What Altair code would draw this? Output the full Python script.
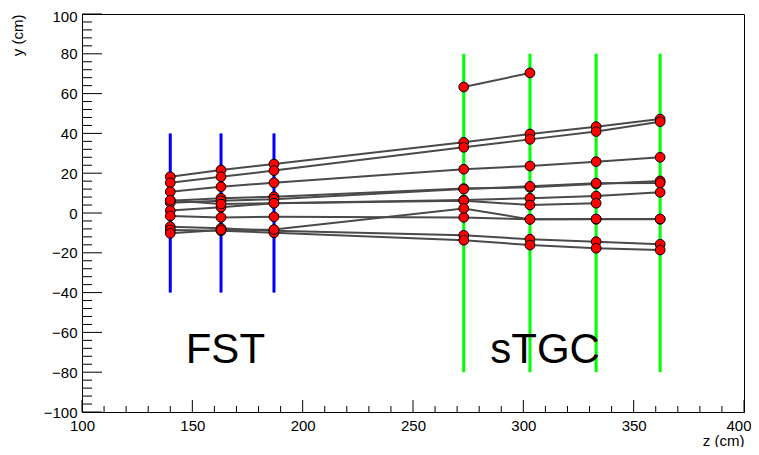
import altair as alt
import pandas as pd

# detector planes (z, cm)
FST_Z = [140, 163, 187]
STGC_Z = [273, 303, 333, 362]
PLANE_Z = FST_Z + STGC_Z
FST_HALF = 40
STGC_HALF = 80

# hit y positions (cm) of each track at the planes (None = no hit)
TRACK_1 = [18.2, 21.6, 24.6, 35.5, 39.7, 43.4, 47.2]
TRACK_2 = [15.2, 18.2, 21.3, 33.0, 37.0, 40.9, 45.9]
TRACK_3 = [10.7, 13.2, 15.2, 22.0, 23.6, 25.8, 28.0]
TRACK_4 = [6.2, 7.4, 8.2, 12.3, 12.9, 14.6, 16.1]
TRACK_5 = [5.2, 6.2, 6.9, 12.0, 13.4, 15.0, 15.1]
TRACK_6 = [1.2, 2.9, 4.9, 6.5, 7.4, 8.5, 10.4]
TRACK_7 = [6.4, 4.5, 4.9, 6.2, 4.0, 4.9, None]
TRACK_8 = [-1.5, -2.2, -1.9, -2.2, -3.2, -3.2, -3.2]
TRACK_9 = [-6.9, -7.7, -8.9, -11.2, -13.2, -14.4, -15.7]
TRACK_10 = [-8.5, -8.9, -9.9, -13.7, -16.1, -17.7, -18.6]
TRACK_11 = [-10.2, -8.5, -8.3, 2.3, -3.2, -3.0, -3.0]
TRACK_12 = [None, None, None, 63.3, 70.4, None, None]
TRACKS = [TRACK_1, TRACK_2, TRACK_3, TRACK_4, TRACK_5, TRACK_6,
          TRACK_7, TRACK_8, TRACK_9, TRACK_10, TRACK_11, TRACK_12]

LABELS = ["FST", "sTGC"]
LABEL_Z = [147, 285]
LABEL_Y = [-75.5, -75.5]

X_MAJOR = list(range(100, 401, 50))
X_MINOR = [v for v in range(100, 401, 10) if v % 50 != 0]
Y_MAJOR = list(range(-100, 101, 20))
Y_MINOR = [v for v in range(-100, 101, 4) if v % 20 != 0]

W, H = 662, 398

rows = []
for i, tr in enumerate(TRACKS):
    for z, y in zip(PLANE_Z, tr):
        if y is not None:
            rows.append({"track": i, "z": z, "y": y})
hits = pd.DataFrame(rows)

xs = alt.Scale(domain=[100, 400], nice=False, zero=False)
ys = alt.Scale(domain=[-100, 100], nice=False, zero=False)

xaxis = alt.Axis(values=X_MAJOR, ticks=False, grid=False, labelFontSize=15,
                 labelFont="Liberation Sans", labelColor="black", labelPadding=6,
                 labelFlush=False, labelOverlap=False, labelBound=False,
                 labelAlign=alt.condition("datum.value >= 400", alt.value("right"), alt.value("center")),
                 labelOffset=alt.condition("datum.value >= 400", alt.value(7), alt.value(0)),
                 domainColor="black",
                 title="z (cm)", titleFont="Liberation Sans", titleFontSize=15,
                 titleFontWeight="normal", titleAnchor="end", titleAlign="right",
                 titleX=W, titleY=28, titleBaseline="middle", titleColor="black")
yaxis = alt.Axis(values=Y_MAJOR, ticks=False, grid=False, labelFontSize=15,
                 labelFont="Liberation Sans", labelColor="black", labelPadding=5,
                 labelFlush=False, labelOverlap=False, labelBound=False,
                 labelOffset=alt.condition("datum.value >= 100", alt.value(2), alt.value(0)),
                 domainColor="black",
                 title="y (cm)", titleFont="Liberation Sans", titleFontSize=15,
                 titleFontWeight="normal", titleAngle=270, titleAlign="right",
                 titleX=-65, titleY=0, titleBaseline="middle", titleColor="black")


def X(field):
    return alt.X(field, type="quantitative", scale=xs, axis=xaxis)


def Y(field):
    return alt.Y(field, type="quantitative", scale=ys, axis=yaxis)


fst = pd.DataFrame({"z": FST_Z, "lo": [-FST_HALF] * len(FST_Z), "hi": [FST_HALF] * len(FST_Z)})
stgc = pd.DataFrame({"z": STGC_Z, "lo": [-STGC_HALF] * len(STGC_Z), "hi": [STGC_HALF] * len(STGC_Z)})

fst_lines = alt.Chart(fst).mark_rule(color="#0000ff", strokeWidth=3).encode(
    x=X("z"), y=Y("lo"), y2="hi:Q")
stgc_lines = alt.Chart(stgc).mark_rule(color="#00ff00", strokeWidth=3).encode(
    x=X("z"), y=Y("lo"), y2="hi:Q")

track_lines = alt.Chart(hits).mark_line(color="#4a4a4a", strokeWidth=2).encode(
    x=X("z"), y=Y("y"), detail="track:N", order="z:Q")
track_pts = alt.Chart(hits).mark_point(filled=True, shape="circle", size=95,
                                       fill="#ff0000", stroke="#000000",
                                       strokeWidth=1, opacity=1).encode(
    x=X("z"), y=Y("y"))

labels = alt.Chart(pd.DataFrame({"t": LABELS, "z": LABEL_Z, "y": LABEL_Y})).mark_text(
    font="Liberation Sans", fontSize=42, align="left", baseline="alphabetic", color="black"
).encode(x=X("z"), y=Y("y"), text="t:N")

xmaj = alt.Chart(pd.DataFrame({"z": X_MAJOR})).mark_rule(color="black", strokeWidth=1).encode(
    x=X("z"), y=alt.value(H), y2=alt.value(H - 12))
xmin = alt.Chart(pd.DataFrame({"z": X_MINOR})).mark_rule(color="black", strokeWidth=1).encode(
    x=X("z"), y=alt.value(H), y2=alt.value(H - 6))
ymaj = alt.Chart(pd.DataFrame({"y": Y_MAJOR})).mark_rule(color="black", strokeWidth=1).encode(
    y=Y("y"), x=alt.value(0), x2=alt.value(20))
ymin = alt.Chart(pd.DataFrame({"y": Y_MINOR})).mark_rule(color="black", strokeWidth=1).encode(
    y=Y("y"), x=alt.value(0), x2=alt.value(10))

chart = alt.layer(
    xmaj, xmin, ymaj, ymin, fst_lines, stgc_lines, track_lines, track_pts, labels
).properties(
    width=W, height=H,
    autosize=alt.AutoSizeParams(type="none"),
    padding={"left": 74, "top": 6, "right": 7, "bottom": 35},
    background="white",
).configure_view(stroke="black", strokeWidth=1).configure_axis(labelOverlap=False)

chart.save("out.html", embed_options={"renderer": "svg", "actions": False})
